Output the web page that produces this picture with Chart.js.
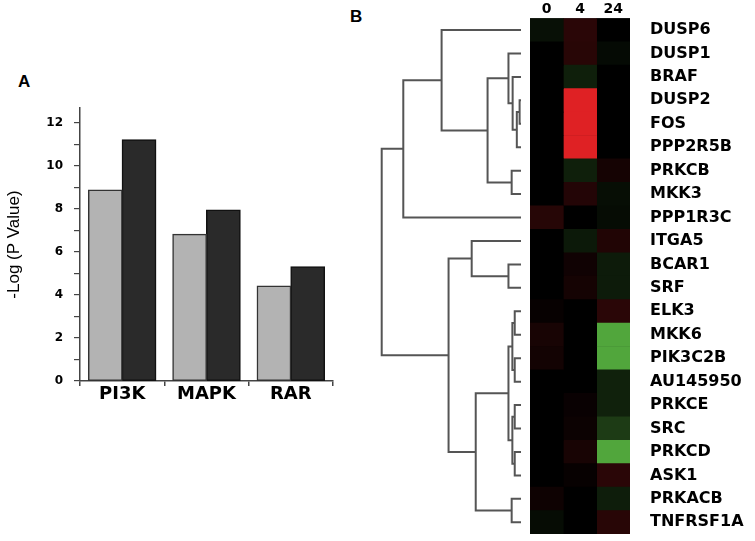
<!DOCTYPE html>
<html>
<head>
<meta charset="utf-8">
<script src="https://cdn.jsdelivr.net/npm/chart.js@4.4.0/dist/chart.umd.min.js"></script>
<style>
body { margin:0; background:#fff; width:755px; height:541px; overflow:hidden; position:relative; font-family:"Liberation Sans", Arial, sans-serif; }
.box { position:absolute; }
.panel { position:absolute; font-weight:bold; font-size:17px; line-height:17px; }
</style>
</head>
<body>
<div class="panel" style="left:18px;top:73px">A</div>
<div class="panel" style="left:350px;top:8px">B</div>
<div class="box" style="left:0;top:0;width:345px;height:420px"><canvas id="barChart"></canvas></div>
<div class="box" style="left:370px;top:0;width:160px;height:541px"><canvas id="treeChart"></canvas></div>
<div class="box" style="left:500px;top:0;width:255px;height:541px"><canvas id="heatChart"></canvas></div>
<script>
// panel A
var categories = ['PI3K', 'MAPK', 'RAR'];
var seriesLight = [8.89, 6.83, 4.42];
var seriesDark = [11.22, 7.95, 5.32];

// panel B, heatmap (log ratio, + red / - green)
var genes = ['DUSP6', 'DUSP1', 'BRAF', 'DUSP2', 'FOS', 'PPP2R5B', 'PRKCB', 'MKK3', 'PPP1R3C',
    'ITGA5', 'BCAR1', 'SRF', 'ELK3', 'MKK6', 'PIK3C2B', 'AU145950', 'PRKCE', 'SRC', 'PRKCD',
    'ASK1', 'PRKACB', 'TNFRSF1A'];
var timePoints = ['0', '4', '24'];
var expr0  = [-0.08, 0, 0, 0, 0, 0, 0, 0, 0.16, 0, 0, 0, 0.03, 0.1, 0.08, 0, 0, 0, 0, 0, 0.06, -0.06];
var expr4  = [0.18, 0.17, -0.16, 0.95, 0.95, 0.95, -0.16, 0.15, 0, -0.13, 0.07, 0.09, 0, 0, 0, 0, 0.04, 0.05, 0.1, 0.03, 0, 0];
var expr24 = [0, -0.05, 0, 0, 0, 0, 0.09, -0.07, -0.06, 0.14, -0.14, -0.14, 0.18, -0.85, -0.85, -0.17, -0.17, -0.3, -0.85, 0.18, -0.15, 0.17];

// panel B, dendrogram (leaf = row index, node = 22 + merge index)
var linkLeft   = [3, 22, 2, 1, 6, 25, 0, 28, 10, 9, 12, 14, 32, 16, 18, 35, 34, 20, 38, 31, 29];
var linkRight  = [4, 5, 23, 24, 7, 26, 27, 8, 11, 30, 13, 15, 33, 17, 19, 36, 37, 21, 39, 40, 41];
var linkHeight = [0.01, 0.03, 0.06, 0.09, 0.067, 0.24, 0.57, 0.845, 0.09, 0.354, 0.045, 0.045, 0.062,
    0.045, 0.045, 0.062, 0.09, 0.067, 0.325, 0.52, 1.0];

function cellColor(v) {
    if (v >= 0) {
        return 'rgb(' + Math.round(235 * v) + ',' + Math.round(35 * v) + ',' + Math.round(38 * v) + ')';
    }
    var a = -v;
    return 'rgb(' + Math.round(95 * a) + ',' + Math.round(195 * a) + ',' + Math.round(70 * a) + ')';
}

// labels near the edges must not push the plot area
function noPad(s) {
    s.paddingTop = 0;
    s.paddingBottom = 0;
    s.paddingLeft = 0;
    s.paddingRight = 0;
}

var boldFont = 'DejaVu Sans';

new Chart(document.getElementById('barChart'), {
    type: 'bar',
    data: {
        labels: categories,
        datasets: [{
            data: seriesLight,
            backgroundColor: '#b3b3b3',
            borderColor: '#333',
            borderWidth: 1.5,
            borderSkipped: false,
            inflateAmount: 0.5,
            barPercentage: 1,
            categoryPercentage: 0.8
        }, {
            data: seriesDark,
            backgroundColor: '#2a2a2a',
            borderColor: '#111',
            borderWidth: 1.5,
            borderSkipped: false,
            inflateAmount: 0.5,
            barPercentage: 1,
            categoryPercentage: 0.8
        }]
    },
    options: {
        responsive: true,
        maintainAspectRatio: false,
        animation: false,
        layout: { padding: { top: 108, right: 12, bottom: 5, left: 0 } },
        plugins: { legend: { display: false }, tooltip: { enabled: false } },
        scales: {
            x: {
                grid: { offset: true, drawOnChartArea: false, tickLength: 5, color: '#444', lineWidth: 1.5 },
                border: { display: true, color: '#444', width: 1.5 },
                ticks: { font: { family: boldFont, weight: 'bold', size: 18 }, color: '#000', padding: -2 },
                afterFit: function (s) { s.height = 34; }
            },
            y: {
                min: 0,
                max: 12.7,
                ticks: {
                    stepSize: 1,
                    font: { family: boldFont, weight: 'bold', size: 12 },
                    color: '#000',
                    padding: 11,
                    callback: function (v) { return v % 2 === 0 ? v : ''; }
                },
                afterBuildTicks: function (s) {
                    s.ticks = s.ticks.filter(function (t) { return Number.isInteger(t.value); });
                },
                grid: { drawOnChartArea: false, tickLength: 6, color: '#444', lineWidth: 1.2 },
                border: { display: true, color: '#444', width: 1.5 },
                title: { display: true, text: '-Log (P Value)', font: { family: 'Liberation Sans', size: 17 }, color: '#000', padding: 4 },
                afterFit: function (s) { s.width = 80; }
            }
        }
    }
});

// dendrogram segments from the linkage
var nodeY = genes.map(function (g, i) { return i; });
var nodeH = genes.map(function () { return 0; });
var treeSets = [];
for (var k = 0; k < linkLeft.length; k++) {
    var a = linkLeft[k], b = linkRight[k], h = linkHeight[k];
    treeSets.push({
        data: [{ x: nodeH[a], y: nodeY[a] }, { x: h, y: nodeY[a] }, { x: h, y: nodeY[b] }, { x: nodeH[b], y: nodeY[b] }],
        showLine: true,
        borderColor: '#555',
        borderWidth: 2,
        pointRadius: 0,
        fill: false,
        clip: false
    });
    nodeY.push((nodeY[a] + nodeY[b]) / 2);
    nodeH.push(h);
}

new Chart(document.getElementById('treeChart'), {
    type: 'scatter',
    data: { datasets: treeSets },
    options: {
        responsive: true,
        maintainAspectRatio: false,
        animation: false,
        layout: { padding: { top: 18.3, right: 9, bottom: 7, left: 11.7 } },
        plugins: { legend: { display: false }, tooltip: { enabled: false } },
        scales: {
            x: { type: 'linear', min: 0, max: 1, reverse: true, display: false },
            y: { type: 'linear', min: -0.5, max: genes.length - 0.5, reverse: true, display: false }
        }
    }
});

var blackBack = {
    id: 'blackBack',
    beforeDatasetsDraw: function (chart) {
        var ar = chart.chartArea;
        chart.ctx.save();
        chart.ctx.fillStyle = '#000';
        chart.ctx.fillRect(ar.left, ar.top, ar.right - ar.left, ar.bottom - ar.top);
        chart.ctx.restore();
    }
};

new Chart(document.getElementById('heatChart'), {
    type: 'bar',
    data: {
        labels: genes,
        datasets: [expr0, expr4, expr24].map(function (vals, c) {
            return {
                label: timePoints[c],
                data: vals.map(function () { return 1; }),
                backgroundColor: vals.map(cellColor),
                borderWidth: 0,
                barPercentage: 1,
                categoryPercentage: 1
            };
        })
    },
    plugins: [blackBack],
    options: {
        indexAxis: 'y',
        responsive: true,
        maintainAspectRatio: false,
        animation: false,
        layout: { padding: { top: 0, right: 0, bottom: 7, left: 30 } },
        plugins: { legend: { display: false }, tooltip: { enabled: false } },
        scales: {
            x: { stacked: true, min: 0, max: 3, display: false },
            cols: {
                type: 'category',
                labels: timePoints,
                position: 'top',
                offset: true,
                grid: { display: false, drawTicks: false },
                border: { display: false },
                ticks: { font: { family: boldFont, weight: 'bold', size: 14 }, color: '#000', padding: 1 },
                afterFit: function (s) { s.height = 18.3; noPad(s); }
            },
            y: {
                stacked: true,
                position: 'right',
                grid: { display: false, drawTicks: false },
                border: { display: false },
                ticks: { font: { family: boldFont, weight: 'bold', size: 16 }, color: '#000', padding: 20, autoSkip: false },
                afterFit: function (s) { s.width = 125; noPad(s); }
            }
        }
    }
});
</script>
</body>
</html>
